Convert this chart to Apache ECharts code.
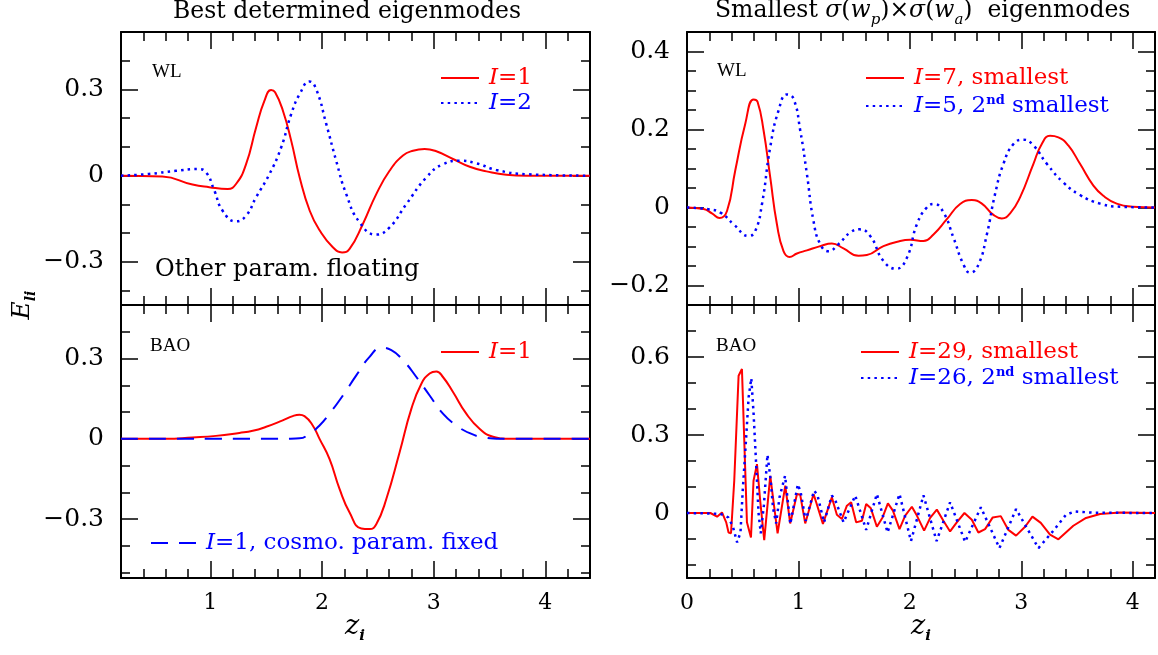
<!DOCTYPE html>
<html>
<head>
<meta charset="utf-8">
<script src="https://cdn.jsdelivr.net/npm/echarts@6/dist/echarts.min.js"></script>
<style>
  html, body { margin: 0; padding: 0; background: #fff; }
  #chart { width: 1158px; height: 655px; }
</style>
</head>
<body>
<div id="chart"></div>
<script>
// ---- data ----
// top left: WL, best determined eigenmodes
var wlBestX1 = [0.2, 0.57, 0.84, 0.99, 1.155, 1.23, 1.32, 1.41, 1.484, 1.544, 1.58, 1.65, 1.724, 1.8, 1.89, 1.98, 2.097, 2.18, 2.247, 2.366, 2.486, 2.605, 2.725, 2.815, 2.919, 3.024, 3.173, 3.323, 3.473, 3.65, 3.83, 4.4];
var wlBestI1 = [0, -0.003, -0.031, -0.04, -0.046, -0.029, 0.04, 0.168, 0.26, 0.298, 0.29, 0.226, 0.122, -0.006, -0.122, -0.191, -0.249, -0.267, -0.255, -0.168, -0.064, 0.017, 0.07, 0.087, 0.093, 0.085, 0.058, 0.031, 0.015, 0.003, 0, 0];
var wlBestX2 = [0.2, 0.45, 0.69, 0.886, 0.96, 1.036, 1.11, 1.23, 1.32, 1.41, 1.53, 1.634, 1.724, 1.8, 1.888, 1.948, 2.038, 2.127, 2.217, 2.336, 2.486, 2.605, 2.755, 2.935, 3.083, 3.233, 3.383, 3.56, 3.83, 4.4];
var wlBestI2 = [0, 0.006, 0.017, 0.023, 0.012, -0.052, -0.122, -0.159, -0.139, -0.075, 0.006, 0.098, 0.214, 0.284, 0.328, 0.301, 0.18, 0.052, -0.064, -0.162, -0.205, -0.18, -0.099, -0.006, 0.04, 0.052, 0.043, 0.02, 0.005, 0];

// bottom left: BAO, best determined
var baoBestX1 = [0.2, 0.6, 0.84, 1.05, 1.26, 1.38, 1.5, 1.648, 1.738, 1.798, 1.843, 1.917, 1.978, 2.067, 2.157, 2.247, 2.352, 2.426, 2.486, 2.576, 2.695, 2.8, 2.89, 2.964, 3.024, 3.083, 3.173, 3.292, 3.413, 3.532, 3.69, 4.4];
var baoBestI1 = [0, 0, 0.005, 0.011, 0.022, 0.03, 0.045, 0.069, 0.085, 0.09, 0.085, 0.05, 0, -0.075, -0.187, -0.275, -0.335, -0.337, -0.319, -0.225, -0.05, 0.112, 0.206, 0.244, 0.252, 0.231, 0.175, 0.094, 0.037, 0.008, 0, 0];
var baoFixedX = [0.2, 1.6, 1.798, 1.888, 1.978, 2.067, 2.187, 2.307, 2.426, 2.531, 2.621, 2.725, 2.845, 2.964, 3.083, 3.203, 3.323, 3.442, 3.6, 4.4];
var baoFixedI1 = [0, 0, 0.002, 0.019, 0.05, 0.094, 0.162, 0.237, 0.306, 0.34, 0.331, 0.294, 0.231, 0.162, 0.094, 0.05, 0.021, 0.006, 0, 0];

// top right: WL, smallest sigma(wp) x sigma(wa)
var wlMinX7 = [0, 0.149, 0.224, 0.292, 0.359, 0.433, 0.523, 0.597, 0.633, 0.687, 0.747, 0.807, 0.866, 0.92, 0.987, 1.076, 1.196, 1.3, 1.404, 1.539, 1.614, 1.763, 1.913, 2.003, 2.122, 2.212, 2.332, 2.451, 2.556, 2.646, 2.75, 2.825, 2.9, 2.989, 3.109, 3.184, 3.258, 3.333, 3.422, 3.527, 3.647, 3.736, 3.856, 4.0, 4.2];
var wlMinI7 = [0, -0.004, -0.015, -0.027, -0.009, 0.095, 0.215, 0.277, 0.271, 0.198, 0.077, -0.043, -0.112, -0.127, -0.118, -0.11, -0.099, -0.092, -0.105, -0.124, -0.122, -0.099, -0.086, -0.083, -0.086, -0.069, -0.03, 0.009, 0.019, 0.01, -0.019, -0.028, -0.015, 0.026, 0.112, 0.163, 0.184, 0.18, 0.159, 0.112, 0.056, 0.03, 0.01, 0.002, 0];
var wlMinX5 = [0, 0.179, 0.299, 0.418, 0.553, 0.613, 0.673, 0.747, 0.822, 0.897, 0.956, 1.016, 1.076, 1.135, 1.196, 1.27, 1.36, 1.465, 1.548, 1.644, 1.763, 1.877, 1.973, 2.063, 2.152, 2.218, 2.302, 2.391, 2.481, 2.541, 2.616, 2.691, 2.765, 2.84, 2.93, 3.019, 3.109, 3.229, 3.378, 3.527, 3.707, 3.886, 4.2];
var wlMinI5 = [0, -0.004, -0.013, -0.043, -0.073, -0.06, 0.009, 0.155, 0.249, 0.29, 0.279, 0.198, 0.086, -0.034, -0.094, -0.112, -0.094, -0.064, -0.056, -0.073, -0.137, -0.157, -0.129, -0.043, 0, 0.009, -0.013, -0.077, -0.146, -0.167, -0.146, -0.069, 0.035, 0.112, 0.163, 0.174, 0.159, 0.112, 0.064, 0.032, 0.01, 0.002, 0];

// bottom right: BAO, smallest sigma(wp) x sigma(wa)
var baoMinX29 = [0, 0.21, 0.27, 0.314, 0.352, 0.373, 0.395, 0.424, 0.463, 0.493, 0.538, 0.574, 0.597, 0.628, 0.657, 0.693, 0.747, 0.813, 0.882, 0.926, 0.987, 1.016, 1.061, 1.136, 1.22, 1.30, 1.345, 1.39, 1.435, 1.473, 1.518, 1.57, 1.608, 1.65, 1.704, 1.755, 1.803, 1.848, 1.907, 1.958, 2.018, 2.063, 2.128, 2.182, 2.242, 2.301, 2.361, 2.421, 2.49, 2.556, 2.615, 2.675, 2.744, 2.816, 2.884, 2.953, 3.034, 3.1, 3.175, 3.258, 3.333, 3.467, 3.581, 3.707, 3.886, 4.2];
var baoMinI29 = [0, 0, -0.014, 0.002, -0.036, -0.075, -0.078, 0.124, 0.528, 0.554, -0.036, -0.094, 0.124, 0.188, 0.047, -0.104, 0.143, -0.078, 0.105, -0.04, 0.073, 0.07, -0.04, 0.073, -0.042, 0.06, -0.007, -0.023, 0.028, 0.041, -0.036, -0.03, 0.035, 0.018, -0.053, -0.017, 0.037, 0.009, -0.062, -0.01, 0.024, -0.01, -0.068, -0.019, 0.013, -0.03, -0.071, -0.036, 0, -0.026, -0.075, -0.062, -0.017, -0.012, -0.065, -0.087, -0.053, -0.014, -0.038, -0.083, -0.101, -0.049, -0.019, -0.004, 0.002, 0];
var baoMinX26 = [0, 0.30, 0.37, 0.41, 0.45, 0.48, 0.50, 0.525, 0.553, 0.577, 0.597, 0.622, 0.642, 0.662, 0.69, 0.722, 0.75, 0.772, 0.80, 0.83, 0.88, 0.927, 0.94, 0.995, 1.02, 1.065, 1.08, 1.14, 1.17, 1.23, 1.30, 1.33, 1.405, 1.51, 1.608, 1.704, 1.80, 1.907, 2.01, 2.122, 2.24, 2.361, 2.496, 2.637, 2.804, 2.953, 3.154, 3.288, 3.40, 3.483, 3.65, 4.2];
var baoMinI26 = [0, -0.003, -0.017, -0.05, -0.113, -0.075, 0.086, 0.25, 0.445, 0.518, 0.387, 0.175, 0, -0.078, 0.03, 0.224, 0.13, 0.02, -0.04, 0.06, 0.143, -0.042, -0.045, 0.11, 0.08, -0.03, -0.023, 0.086, 0.07, -0.036, 0.067, 0.05, -0.036, 0.067, -0.065, 0.073, -0.075, 0.073, -0.108, 0.068, -0.108, 0.041, -0.111, 0.022, -0.135, 0.015, -0.135, -0.068, -0.007, 0.006, 0.001, 0];

// axis ranges and tick labels
var leftXRange = [0.2, 4.4];
var rightXRange = [0, 4.2];
var leftXMajor = [1, 2, 3, 4];
var rightXMajor = [0, 1, 2, 3, 4];
var tlYRange = [-0.45, 0.5], tlYMajor = [-0.3, 0, 0.3];
var blYRange = [-0.52, 0.5], blYMajor = [-0.3, 0, 0.3];
var trYRange = [-0.25, 0.45], trYMajor = [-0.2, 0, 0.2, 0.4];
var brYRange = [-0.25, 0.8], brYMajor = [0, 0.3, 0.6];

function steps(a, b, d) {
    var out = [];
    for (var v = a; v <= b + 1e-9; v += d) out.push(Math.round(v * 1000) / 1000);
    return out;
}

var FONT = 'DejaVu Serif';
var RED = '#ff0000', BLUE = '#0000ff';
var DOT = [2.5, 4.2];
var DASH = [17, 11];

var grids = [
    { left: 121, top: 32, width: 469, height: 273 },
    { left: 121, top: 305, width: 469, height: 273 },
    { left: 687, top: 32, width: 468, height: 273 },
    { left: 687, top: 305, width: 468, height: 273 }
];

var xAxes = [], yAxes = [];

function fmt(v) {
    return v < 0 ? '\u2212' + Math.abs(v) : String(v);
}

// one panel frame: ticks on all four sides, major ticks longer
function frame(gi, xr, yr, xMaj, xMin, yMaj, yMin, xLabels) {
    var xi = xAxes.length, yi = yAxes.length;
    ['bottom', 'top'].forEach(function (pos) {
        xAxes.push({
            type: 'value', gridIndex: gi, min: xr[0], max: xr[1], position: pos,
            splitLine: { show: false },
            axisLine: { show: true, onZero: false, lineStyle: { color: '#000', width: 2 } },
            axisTick: { show: true, inside: true, length: 17, customValues: xMaj, lineStyle: { color: '#000', width: 1.5 } },
            axisLabel: { show: xLabels && pos === 'bottom', customValues: xMaj, margin: 14, color: '#000', fontFamily: FONT, fontSize: 22 }
        });
        xAxes.push({
            type: 'value', gridIndex: gi, min: xr[0], max: xr[1], position: pos,
            splitLine: { show: false },
            axisLine: { show: false, onZero: false },
            axisTick: { show: true, inside: true, length: 9, customValues: xMin, lineStyle: { color: '#000', width: 1.5 } },
            axisLabel: { show: false }
        });
    });
    ['left', 'right'].forEach(function (pos) {
        yAxes.push({
            type: 'value', gridIndex: gi, min: yr[0], max: yr[1], position: pos,
            splitLine: { show: false },
            axisLine: { show: true, onZero: false, lineStyle: { color: '#000', width: 2 } },
            axisTick: { show: true, inside: true, length: 17, customValues: yMaj, lineStyle: { color: '#000', width: 1.5 } },
            axisLabel: { show: pos === 'left', customValues: yMaj, margin: 17, color: '#000', fontFamily: FONT, fontSize: 25, formatter: fmt }
        });
        yAxes.push({
            type: 'value', gridIndex: gi, min: yr[0], max: yr[1], position: pos,
            splitLine: { show: false },
            axisLine: { show: false, onZero: false },
            axisTick: { show: true, inside: true, length: 9, customValues: yMin, lineStyle: { color: '#000', width: 1.5 } },
            axisLabel: { show: false }
        });
    });
    return [xi, yi];
}

var axTL = frame(0, leftXRange, tlYRange, leftXMajor, steps(0.4, 4.2, 0.2), tlYMajor, steps(-0.4, 0.4, 0.1), false);
var axBL = frame(1, leftXRange, blYRange, leftXMajor, steps(0.4, 4.2, 0.2), blYMajor, steps(-0.5, 0.4, 0.1), true);
var axTR = frame(2, rightXRange, trYRange, rightXMajor, steps(0.2, 4.0, 0.2), trYMajor, steps(-0.2, 0.4, 0.05), false);
var axBR = frame(3, rightXRange, brYRange, rightXMajor, steps(0.2, 4.0, 0.2), brYMajor, steps(-0.2, 0.7, 0.1), true);

function zip(xs, ys) {
    return xs.map(function (x, i) { return [x, ys[i]]; });
}

function line(name, xs, ys, ax, color, width, type, smooth) {
    return {
        name: name, type: 'line', xAxisIndex: ax[0], yAxisIndex: ax[1],
        data: zip(xs, ys), symbol: 'none', showSymbol: false,
        smooth: smooth, silent: true, animation: false,
        lineStyle: { color: color, width: width, type: type },
        itemStyle: { color: color }
    };
}

var series = [
    line('tl1', wlBestX1, wlBestI1, axTL, RED, 2, 'solid', 0.5),
    line('tl2', wlBestX2, wlBestI2, axTL, BLUE, 2.5, DOT, 0.5),
    line('bl1', baoBestX1, baoBestI1, axBL, RED, 2, 'solid', 0.5),
    line('blFix', baoFixedX, baoFixedI1, axBL, BLUE, 2, DASH, 0.5),
    line('tr7', wlMinX7, wlMinI7, axTR, RED, 2, 'solid', 0.5),
    line('tr5', wlMinX5, wlMinI5, axTR, BLUE, 2.5, DOT, 0.5),
    line('br29', baoMinX29, baoMinI29, axBR, RED, 2, 'solid', false),
    line('br26', baoMinX26, baoMinI26, axBR, BLUE, 2.5, DOT, false)
];

var legendText = {
    tl1: '{ri|I}{r|=1}',
    tl2: '{bi|I}{b|=2}',
    bl1: '{ri|I}{r|=1}',
    blFix: '{bi|I}{b|=1, cosmo. param. fixed}',
    tr7: '{ri|I}{r|=7, smallest}',
    tr5: '{bi|I}{b|=5, 2}{bs|nd}{b| smallest}',
    br29: '{ri|I}{r|=29, smallest}',
    br26: '{bi|I}{b|=26, 2}{bs|nd}{b| smallest}'
};

var legendRich = {
    ri: { fontFamily: FONT, fontStyle: 'italic', fontSize: 23, color: RED, padding: [0, 0, 0, 5] },
    r: { fontFamily: FONT, fontSize: 23, color: RED },
    bi: { fontFamily: FONT, fontStyle: 'italic', fontSize: 23, color: BLUE, padding: [0, 0, 0, 5] },
    b: { fontFamily: FONT, fontSize: 23, color: BLUE },
    bs: { fontFamily: FONT, fontSize: 13, fontWeight: 'bold', color: BLUE, verticalAlign: 'top', lineHeight: 16 }
};

function legend(names, left, top, gap, width) {
    return {
        data: names, left: left, top: top, orient: 'vertical', padding: 0,
        itemWidth: width || 38, itemHeight: 14, itemGap: gap, selectedMode: false,
        itemStyle: { opacity: 0 },
        formatter: function (n) { return legendText[n]; },
        textStyle: { rich: legendRich, lineHeight: 24 }
    };
}

var titleRich = {
    i: { fontFamily: FONT, fontStyle: 'italic', fontSize: 23.5, color: '#000' },
    sub: { fontFamily: FONT, fontStyle: 'italic', fontSize: 15, color: '#000', verticalAlign: 'bottom', lineHeight: 33 },
    n: { fontFamily: FONT, fontSize: 23.5, color: '#000' }
};

var zRich = {
    z: { fontFamily: FONT, fontStyle: 'italic', fontSize: 27, color: '#000' },
    s: { fontFamily: FONT, fontStyle: 'italic', fontWeight: 'bold', fontSize: 15, color: '#000', verticalAlign: 'bottom', lineHeight: 34 }
};

var option = {
    animation: false,
    backgroundColor: '#fff',
    grid: grids,
    xAxis: xAxes,
    yAxis: yAxes,
    legend: [
        legend(['tl1', 'tl2'], 440, 66, 1),
        legend(['bl1'], 440, 340, 1),
        legend(['blFix'], 150, 531, 1, 45),
        legend(['tr7', 'tr5'], 865, 66, 4),
        legend(['br29', 'br26'], 860, 340, 2)
    ],
    graphic: [
        { type: 'text', left: 173, top: 0, style: { text: 'Best determined eigenmodes', fontFamily: FONT, fontSize: 23.5, fill: '#000' } },
        { type: 'text', left: 715, top: -1, style: {
            text: '{n|Smallest }{i|\u03c3}{n|(}{i|w}{sub|p}{n|)\u00d7}{i|\u03c3}{n|(}{i|w}{sub|a}{n|)  eigenmodes}',
            rich: titleRich } },
        { type: 'text', left: 152, top: 63, style: { text: 'WL', fontFamily: 'Liberation Serif', fontSize: 19, fill: '#000' } },
        { type: 'text', left: 717, top: 62, style: { text: 'WL', fontFamily: 'Liberation Serif', fontSize: 19, fill: '#000' } },
        { type: 'text', left: 150, top: 337, style: { text: 'BAO', fontFamily: 'Liberation Serif', fontSize: 19, fill: '#000' } },
        { type: 'text', left: 716, top: 337, style: { text: 'BAO', fontFamily: 'Liberation Serif', fontSize: 19, fill: '#000' } },
        { type: 'text', left: 155, top: 258, style: { text: 'Other param. floating', fontFamily: FONT, fontSize: 24, fill: '#000' } },
        { type: 'text', x: 355, y: 627, style: { text: '{z|z}{s|i}', align: 'center', verticalAlign: 'middle', rich: zRich } },
        { type: 'text', x: 921, y: 627, style: { text: '{z|z}{s|i}', align: 'center', verticalAlign: 'middle', rich: zRich } },
        { type: 'text', x: 22, y: 305, rotation: Math.PI / 2, style: {
            text: '{e|E}{s|li}', align: 'center', verticalAlign: 'middle',
            rich: { e: { fontFamily: FONT, fontStyle: 'italic', fontSize: 25, color: '#000' },
                    s: { fontFamily: FONT, fontStyle: 'italic', fontWeight: 'bold', fontSize: 14, color: '#000', verticalAlign: 'bottom', lineHeight: 32 } } } }
    ],
    series: series
};

var chart = echarts.init(document.getElementById('chart'), null, { renderer: 'canvas' });
chart.setOption(option);
</script>
</body>
</html>
